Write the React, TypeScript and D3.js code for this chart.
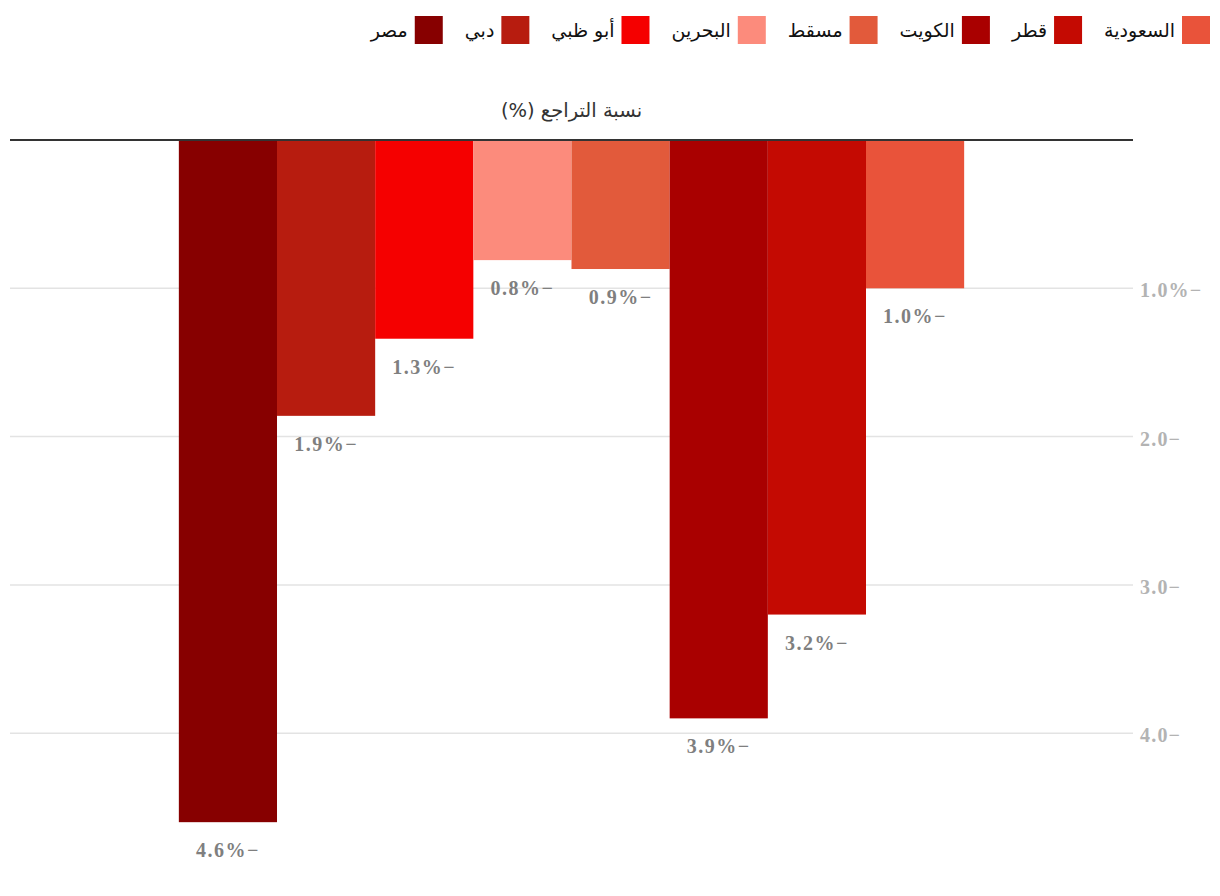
import React, { useEffect, useRef } from 'react';
import * as d3 from 'd3';

const categories = ['مصر', 'دبي', 'أبو ظبي', 'البحرين', 'مسقط', 'الكويت', 'قطر', 'السعودية'];
const values = [4.6, 1.86, 1.34, 0.81, 0.87, 3.9, 3.2, 1.0];
const colors = ['#870000', '#b71c0f', '#f50000', '#fc8b7c', '#e25a3b', '#a90000', '#c40a02', '#e9533a'];
const tickValues = [1, 2, 3, 4];
const tickLabels = ['1.0%−', '2.0−', '3.0−', '4.0−'];
const legendOrder = ['السعودية', 'قطر', 'الكويت', 'مسقط', 'البحرين', 'أبو ظبي', 'دبي', 'مصر'];
const title = 'نسبة التراجع (%)';

const W = 1220;
const H = 896;

export default function App() {
  const ref = useRef<SVGSVGElement>(null);

  useEffect(() => {
    const svg = d3.select(ref.current);
    svg.selectAll('*').remove();

    const left = 10, right = 1133, top = 140;
    const x = d3.scaleBand<string>().domain(categories).range([left, right]).paddingInner(0).paddingOuter(1.72);
    const y = d3.scaleLinear().domain([0, 5]).range([top, top + 5 * 148.3]);
    const color = d3.scaleOrdinal<string, string>().domain(categories).range(colors);

    // gridlines
    svg.append('g').selectAll('line').data(tickValues).join('line')
      .attr('x1', left).attr('x2', right)
      .attr('y1', d => y(d)).attr('y2', d => y(d))
      .attr('stroke', '#e3e3e3').attr('stroke-width', 1.5);

    // tick labels
    svg.append('g').selectAll('text').data(tickValues).join('text')
      .attr('x', 1140).attr('y', d => y(d) + 9)
      .attr('font-family', '"Liberation Serif", serif').attr('font-weight', 'bold')
      .attr('font-size', 20).attr('letter-spacing', 1.2).attr('fill', '#b3b3b3')
      .attr('direction', 'ltr')
      .text((d, i) => tickLabels[i]);

    // bars
    svg.append('g').selectAll('rect').data(categories).join('rect')
      .attr('x', d => x(d)!).attr('width', x.bandwidth())
      .attr('y', y(0)).attr('height', (d, i) => y(values[i]) - y(0))
      .attr('fill', d => color(d));

    // value labels
    svg.append('g').selectAll('text').data(categories).join('text')
      .attr('x', d => x(d)! + x.bandwidth() / 2)
      .attr('y', (d, i) => y(values[i]) + 35)
      .attr('text-anchor', 'middle')
      .attr('font-family', '"Liberation Serif", serif').attr('font-weight', 'bold')
      .attr('font-size', 20).attr('letter-spacing', 1.5).attr('fill', '#7f7f7f')
      .attr('direction', 'ltr')
      .text((d, i) => `${values[i].toFixed(1)}%−`);

    // axis line
    svg.append('line').attr('x1', left).attr('x2', right).attr('y1', top).attr('y2', top)
      .attr('stroke', '#333').attr('stroke-width', 2);

    // title
    svg.append('text').attr('x', (left + right) / 2).attr('y', 117)
      .attr('text-anchor', 'middle').attr('direction', 'rtl')
      .attr('font-family', '"DejaVu Sans", "Noto Sans", sans-serif')
      .attr('font-size', 19.5).attr('fill', '#333')
      .text(title);

    // legend (RTL flow from the right)
    const lg = svg.append('g');
    let cursor = 1210;
    const sw = 28;
    legendOrder.forEach(name => {
      lg.append('rect').attr('x', cursor - sw).attr('y', 16).attr('width', sw).attr('height', sw)
        .attr('fill', color(name));
      const t = lg.append('text').attr('x', cursor - sw - 7).attr('y', 37)
        .attr('text-anchor', 'start').attr('direction', 'rtl')
        .attr('font-family', '"DejaVu Sans", "Noto Sans", sans-serif')
        .attr('font-size', 19).attr('fill', '#111')
        .text(name);
      const w = (t.node() as SVGTextElement).getComputedTextLength();
      cursor = cursor - sw - 7 - w - 22;
    });
  }, []);

  return (
    <svg ref={ref} width={W} height={H} viewBox={`0 0 ${W} ${H}`}
      style={{ position: 'absolute', left: 0, top: 0, background: '#fff' }} />
  );
}
